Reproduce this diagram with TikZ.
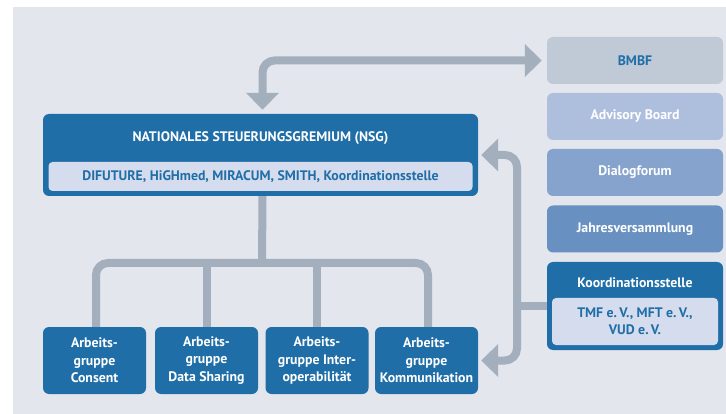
\documentclass[tikz,border=0pt]{standalone}
\usepackage{fontspec}
\setmainfont{PT Sans}
\usetikzlibrary{arrows.meta, positioning, backgrounds, calc}

\definecolor{bggrey}{HTML}{E3E6EC}
\definecolor{nsgblue}{HTML}{1F6EA7}
\definecolor{paleblue}{HTML}{D5DCEE}
\definecolor{flowgrey}{HTML}{A3AFBD}
\definecolor{bmbfgrey}{HTML}{C0CAD6}
\definecolor{boardblue}{HTML}{AEBFDE}
\definecolor{forumblue}{HTML}{85A3CC}
\definecolor{jahresblue}{HTML}{6890C0}

\newcommand{\boxfont}{\bfseries\fontsize{13.8}{17.5}\selectfont}

\tikzset{
  darkbox/.style={fill=nsgblue, rounded corners=6pt, text=white, font=\boxfont, align=center, inner sep=0pt},
  membox/.style={fill=paleblue, rounded corners=4pt, text=nsgblue, font=\boxfont, align=center, inner sep=0pt},
  sidebox/.style={rounded corners=6pt, text=white, font=\boxfont, minimum width=176pt, minimum height=47pt, inner sep=0pt},
  agbox/.style={darkbox, minimum width=103pt, minimum height=67pt},
  flow/.style={draw=flowgrey, line width=8pt, rounded corners=12pt},
  bothtips/.style={{Triangle[length=17pt, width=32pt]}-{Triangle[length=17pt, width=32pt]}},
}

\begin{document}
\begin{tikzpicture}[x=1pt, y=-1pt]
  \useasboundingbox (0,0) rectangle (726,414);
  \fill[bggrey] (13,7) rectangle (726,414);

  % Steuerungsgremium
  \node[darkbox, minimum width=435pt, minimum height=82pt] (nsg) at (260.5, 155) {};
  \node[text=white, font=\boxfont] (nsgtitle) at (260.5, 138) {NATIONALES STEUERUNGSGREMIUM (NSG)};
  \node[membox, minimum width=424pt, minimum height=29pt] (members) at (260.5, 176.5)
    {DIFUTURE, HiGHmed, MIRACUM, SMITH, Koordinationsstelle};

  % Gremien rechts
  \node[sidebox, fill=bmbfgrey, text=nsgblue] (bmbf)   at (635, 60.5)  {BMBF};
  \node[sidebox, fill=boardblue]              (board)  at (635, 116.5) {Advisory Board};
  \node[sidebox, fill=forumblue]              (forum)  at (635, 172.5) {Dialogforum};
  \node[sidebox, fill=jahresblue]             (jahres) at (635, 229)   {Jahresversammlung};

  % Koordinationsstelle
  \node[darkbox, minimum width=176pt, minimum height=88pt] (koord) at (635, 306) {};
  \node[text=white, font=\boxfont] (koordtitle) at (635, 283) {Koordinationsstelle};
  \node[membox, minimum width=166pt, minimum height=47pt] (koordmem) at (635, 321.5)
    {TMF e.\,V., MFT e.\,V.,\\VUD e.\,V.};

  % Arbeitsgruppen
  \node[agbox] (ag1) at (94.5, 360.5)  {Arbeits-\\gruppe\\Consent};
  \node[agbox] (ag2) at (206.5, 360.5) {Arbeits-\\gruppe\\Data Sharing};
  \node[agbox] (ag3) at (317, 360.5)   {Arbeits-\\gruppe Inter-\\operabilität};
  \node[agbox] (ag4) at (426.5, 360.5) {Arbeits-\\gruppe\\Kommunikation};

  % Verbindungen
  \coordinate (hub) at (262, 263);
  \coordinate (bus) at (517, 260);
  \draw[flow, bothtips, shorten <=5pt, shorten >=4pt] (bmbf.west) -| ([xshift=2pt]nsg.north);
  \draw[flow, bothtips, shorten <=3pt, shorten >=3pt] (nsg.east) -| (bus) |- (ag4.east);
  \draw[flow] (koord.west) -- (bus |- koord.west);
  \draw[flow] ([xshift=2pt]nsg.south) -- (hub);
  \draw[flow] ([xshift=1.5pt]ag1.north) |- (hub) -| ([xshift=1.5pt]ag4.north);
  \draw[flow] (ag2.north) -- (ag2.north |- hub);
  \draw[flow] (ag3.north) -- (ag3.north |- hub);
\end{tikzpicture}
\end{document}
